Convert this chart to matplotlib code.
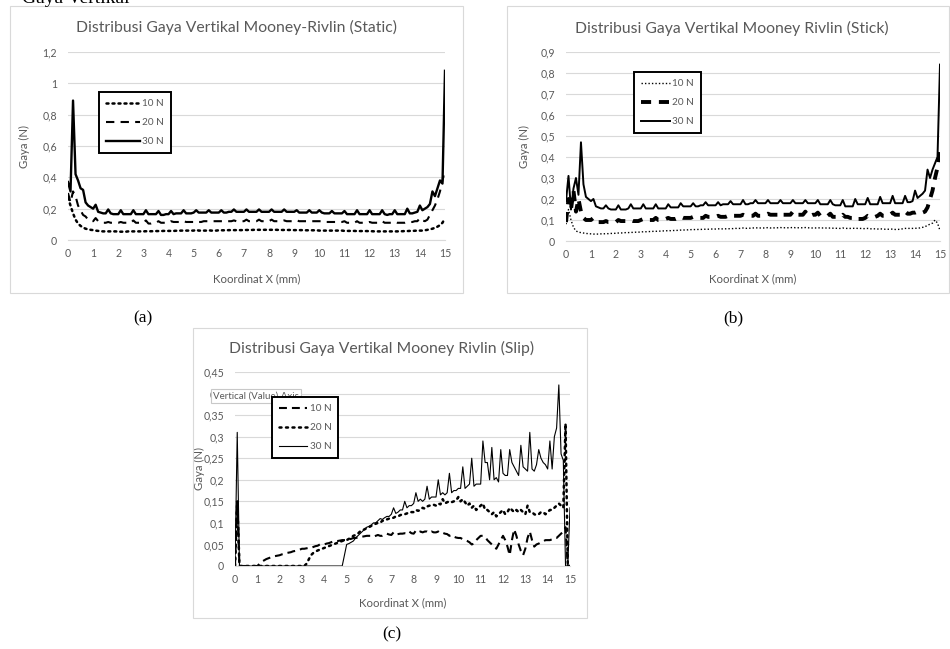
import matplotlib.pyplot as plt
import numpy as np
from matplotlib.patches import Rectangle
from matplotlib.ticker import FuncFormatter

plt.rcParams['font.family'] = ['Lato', 'DejaVu Sans']

# sample positions along the contact (mm), 0.1 mm step
x_mm = np.linspace(0, 15, 151)

# (a) Static
static_30 = [0.37, 0.31, 0.89, 0.42, 0.38, 0.33, 0.32, 0.24, 0.22, 0.21,
             0.2, 0.225, 0.18, 0.175, 0.17, 0.17, 0.195, 0.17, 0.165, 0.165,
             0.165, 0.19, 0.165, 0.165, 0.165, 0.165, 0.19, 0.165, 0.165, 0.165,
             0.165, 0.19, 0.165, 0.165, 0.165, 0.165, 0.185, 0.16, 0.16, 0.165,
             0.165, 0.185, 0.165, 0.17, 0.17, 0.17, 0.19, 0.17, 0.17, 0.17,
             0.175, 0.19, 0.175, 0.175, 0.175, 0.175, 0.19, 0.175, 0.175, 0.175,
             0.175, 0.19, 0.175, 0.175, 0.18, 0.18, 0.195, 0.18, 0.18, 0.18,
             0.18, 0.195, 0.18, 0.18, 0.18, 0.18, 0.195, 0.18, 0.18, 0.18,
             0.18, 0.195, 0.18, 0.18, 0.18, 0.18, 0.195, 0.18, 0.18, 0.18,
             0.18, 0.19, 0.175, 0.175, 0.175, 0.175, 0.19, 0.175, 0.175, 0.175,
             0.19, 0.175, 0.17, 0.17, 0.17, 0.185, 0.17, 0.17, 0.17, 0.17,
             0.185, 0.165, 0.165, 0.165, 0.165, 0.19, 0.165, 0.165, 0.165, 0.165,
             0.19, 0.165, 0.165, 0.165, 0.165, 0.19, 0.165, 0.16, 0.165, 0.165,
             0.19, 0.165, 0.165, 0.165, 0.165, 0.2, 0.17, 0.17, 0.175, 0.18,
             0.22, 0.19, 0.2, 0.21, 0.23, 0.31, 0.28, 0.33, 0.38, 0.36,
             1.08]
static_20 = [0.30, 0.24, 0.31, 0.28, 0.22, 0.19, 0.16, 0.15, 0.13, 0.125,
             0.12, 0.14, 0.12, 0.115, 0.11, 0.11, 0.115, 0.11, 0.11, 0.11,
             0.11, 0.115, 0.11, 0.11, 0.11, 0.11, 0.125, 0.11, 0.11, 0.11,
             0.11, 0.125, 0.105, 0.105, 0.11, 0.11, 0.12, 0.11, 0.11, 0.11,
             0.11, 0.12, 0.115, 0.115, 0.115, 0.115, 0.12, 0.115, 0.115, 0.115,
             0.115, 0.12, 0.115, 0.115, 0.12, 0.12, 0.12, 0.12, 0.12, 0.12,
             0.12, 0.12, 0.12, 0.12, 0.12, 0.12, 0.125, 0.12, 0.12, 0.12,
             0.12, 0.13, 0.12, 0.12, 0.12, 0.12, 0.13, 0.12, 0.12, 0.12,
             0.12, 0.13, 0.12, 0.12, 0.12, 0.12, 0.125, 0.12, 0.12, 0.12,
             0.12, 0.125, 0.12, 0.12, 0.12, 0.12, 0.12, 0.12, 0.12, 0.12,
             0.12, 0.12, 0.115, 0.115, 0.115, 0.115, 0.115, 0.115, 0.115, 0.115,
             0.12, 0.11, 0.11, 0.11, 0.11, 0.12, 0.11, 0.11, 0.11, 0.11,
             0.115, 0.11, 0.11, 0.11, 0.11, 0.12, 0.11, 0.11, 0.11, 0.11,
             0.115, 0.11, 0.11, 0.11, 0.11, 0.115, 0.115, 0.115, 0.12, 0.12,
             0.14, 0.125, 0.12, 0.13, 0.16, 0.19, 0.22, 0.26, 0.31, 0.38,
             0.45]
static_10 = [0.27, 0.22, 0.17, 0.13, 0.105, 0.09, 0.08, 0.072, 0.068, 0.065,
             0.063, 0.06, 0.058, 0.056, 0.055, 0.055, 0.055, 0.055, 0.055, 0.055,
             0.053, 0.053, 0.053, 0.053, 0.055, 0.055, 0.055, 0.055, 0.055, 0.055,
             0.055, 0.056, 0.055, 0.056, 0.056, 0.057, 0.057, 0.057, 0.058, 0.058,
             0.058, 0.058, 0.058, 0.059, 0.059, 0.06, 0.06, 0.06, 0.06, 0.06,
             0.06, 0.065, 0.06, 0.06, 0.06, 0.06, 0.062, 0.06, 0.06, 0.06,
             0.062, 0.062, 0.062, 0.062, 0.063, 0.063, 0.063, 0.063, 0.063, 0.063,
             0.064, 0.064, 0.064, 0.064, 0.065, 0.065, 0.065, 0.065, 0.065, 0.065,
             0.065, 0.065, 0.065, 0.065, 0.064, 0.064, 0.064, 0.064, 0.064, 0.064,
             0.063, 0.063, 0.063, 0.063, 0.062, 0.062, 0.062, 0.062, 0.062, 0.062,
             0.06, 0.06, 0.06, 0.06, 0.06, 0.06, 0.06, 0.06, 0.06, 0.06,
             0.058, 0.058, 0.058, 0.058, 0.058, 0.057, 0.057, 0.057, 0.057, 0.057,
             0.056, 0.056, 0.055, 0.055, 0.055, 0.055, 0.055, 0.055, 0.055, 0.055,
             0.055, 0.055, 0.056, 0.056, 0.057, 0.057, 0.058, 0.058, 0.059, 0.06,
             0.06, 0.06, 0.062, 0.065, 0.068, 0.072, 0.078, 0.085, 0.095, 0.11,
             0.14]

# (b) Stick
stick_30 = [0.19, 0.31, 0.15, 0.25, 0.30, 0.22, 0.47, 0.27, 0.21, 0.2,
            0.19, 0.2, 0.165, 0.16, 0.155, 0.155, 0.17, 0.155, 0.15, 0.15,
            0.15, 0.17, 0.15, 0.15, 0.15, 0.155, 0.175, 0.155, 0.155, 0.155,
            0.155, 0.175, 0.155, 0.155, 0.155, 0.155, 0.175, 0.155, 0.155, 0.155,
            0.155, 0.175, 0.16, 0.16, 0.16, 0.16, 0.18, 0.165, 0.165, 0.165,
            0.165, 0.18, 0.165, 0.165, 0.17, 0.17, 0.185, 0.17, 0.17, 0.17,
            0.17, 0.185, 0.17, 0.175, 0.175, 0.175, 0.19, 0.175, 0.175, 0.175,
            0.175, 0.195, 0.175, 0.175, 0.18, 0.18, 0.195, 0.18, 0.18, 0.18,
            0.18, 0.195, 0.18, 0.18, 0.18, 0.18, 0.195, 0.18, 0.18, 0.18,
            0.18, 0.195, 0.18, 0.18, 0.18, 0.18, 0.195, 0.18, 0.18, 0.18,
            0.18, 0.195, 0.175, 0.175, 0.175, 0.175, 0.195, 0.175, 0.17, 0.17,
            0.17, 0.195, 0.165, 0.165, 0.165, 0.165, 0.2, 0.175, 0.175, 0.175,
            0.175, 0.205, 0.175, 0.175, 0.175, 0.175, 0.21, 0.18, 0.18, 0.18,
            0.18, 0.215, 0.18, 0.18, 0.18, 0.18, 0.215, 0.185, 0.185, 0.19,
            0.24, 0.205, 0.215, 0.225, 0.24, 0.34, 0.30, 0.34, 0.37, 0.40,
            0.84]
stick_20 = [0.09, 0.2, 0.15, 0.24, 0.14, 0.2, 0.14, 0.11, 0.1, 0.1,
            0.1, 0.11, 0.095, 0.09, 0.09, 0.09, 0.095, 0.09, 0.09, 0.09,
            0.09, 0.1, 0.095, 0.095, 0.095, 0.095, 0.1, 0.095, 0.095, 0.095,
            0.1, 0.105, 0.1, 0.1, 0.1, 0.1, 0.11, 0.1, 0.1, 0.1,
            0.105, 0.11, 0.105, 0.105, 0.105, 0.11, 0.115, 0.11, 0.11, 0.11,
            0.11, 0.115, 0.11, 0.11, 0.11, 0.11, 0.12, 0.115, 0.115, 0.115,
            0.115, 0.12, 0.115, 0.115, 0.115, 0.12, 0.125, 0.12, 0.12, 0.12,
            0.12, 0.125, 0.12, 0.12, 0.12, 0.12, 0.13, 0.12, 0.12, 0.125,
            0.125, 0.13, 0.125, 0.125, 0.125, 0.125, 0.135, 0.125, 0.125, 0.125,
            0.125, 0.14, 0.125, 0.125, 0.125, 0.125, 0.14, 0.12, 0.12, 0.125,
            0.125, 0.135, 0.12, 0.12, 0.12, 0.12, 0.13, 0.115, 0.115, 0.115,
            0.115, 0.125, 0.115, 0.115, 0.11, 0.11, 0.115, 0.105, 0.105, 0.105,
            0.11, 0.12, 0.115, 0.115, 0.115, 0.12, 0.13, 0.12, 0.12, 0.125,
            0.125, 0.135, 0.125, 0.125, 0.125, 0.13, 0.14, 0.13, 0.13, 0.135,
            0.135, 0.14, 0.135, 0.135, 0.14, 0.16, 0.2, 0.24, 0.3, 0.35,
            0.44]
stick_10 = [0.08, 0.15, 0.1, 0.065, 0.048, 0.042, 0.04, 0.038, 0.036, 0.035,
            0.034, 0.033, 0.033, 0.033, 0.034, 0.034, 0.035, 0.035, 0.036, 0.036,
            0.037, 0.038, 0.038, 0.039, 0.04, 0.04, 0.041, 0.041, 0.042, 0.042,
            0.043, 0.044, 0.044, 0.045, 0.045, 0.046, 0.046, 0.047, 0.047, 0.048,
            0.048, 0.05, 0.049, 0.05, 0.05, 0.051, 0.052, 0.052, 0.053, 0.053,
            0.054, 0.055, 0.054, 0.055, 0.055, 0.056, 0.056, 0.056, 0.057, 0.057,
            0.057, 0.058, 0.057, 0.058, 0.058, 0.058, 0.059, 0.059, 0.06, 0.06,
            0.06, 0.062, 0.06, 0.061, 0.061, 0.062, 0.063, 0.062, 0.062, 0.062,
            0.062, 0.064, 0.062, 0.062, 0.063, 0.063, 0.064, 0.063, 0.063, 0.063,
            0.063, 0.065, 0.063, 0.063, 0.063, 0.063, 0.064, 0.063, 0.062, 0.062,
            0.062, 0.063, 0.062, 0.062, 0.062, 0.061, 0.062, 0.061, 0.061, 0.06,
            0.06, 0.062, 0.06, 0.06, 0.06, 0.06, 0.061, 0.06, 0.06, 0.059,
            0.059, 0.06, 0.058, 0.058, 0.058, 0.057, 0.058, 0.057, 0.056, 0.056,
            0.056, 0.057, 0.055, 0.055, 0.056, 0.058, 0.06, 0.06, 0.06, 0.06,
            0.06, 0.062, 0.062, 0.065, 0.068, 0.075, 0.08, 0.085, 0.1, 0.085,
            0.05]

# (c) Slip
slip_30 = [0.0, 0.31, 0.0, 0.0, 0.0, 0.0, 0.0, 0.0, 0.0, 0.0,
           0.0, 0.0, 0.0, 0.0, 0.0, 0.0, 0.0, 0.0, 0.0, 0.0,
           0.0, 0.0, 0.0, 0.0, 0.0, 0.0, 0.0, 0.0, 0.0, 0.0,
           0.0, 0.0, 0.0, 0.0, 0.0, 0.0, 0.0, 0.0, 0.0, 0.0,
           0.0, 0.0, 0.0, 0.0, 0.0, 0.0, 0.0, 0.0, 0.0, 0.025,
           0.05, 0.052, 0.055, 0.058, 0.065, 0.07, 0.075, 0.08, 0.085, 0.09,
           0.092, 0.095, 0.1, 0.1, 0.105, 0.11, 0.108, 0.112, 0.115, 0.115,
           0.12, 0.135, 0.122, 0.125, 0.13, 0.13, 0.15, 0.135, 0.14, 0.14,
           0.145, 0.17, 0.15, 0.155, 0.15, 0.155, 0.185, 0.155, 0.16, 0.16,
           0.16, 0.2, 0.165, 0.17, 0.165, 0.17, 0.215, 0.17, 0.175, 0.175,
           0.18, 0.18, 0.23, 0.18, 0.185, 0.19, 0.25, 0.185, 0.19, 0.19,
           0.19, 0.29, 0.24, 0.24, 0.2, 0.275, 0.2, 0.205, 0.195, 0.27,
           0.215, 0.21, 0.21, 0.27, 0.24, 0.23, 0.22, 0.21, 0.28, 0.23,
           0.225, 0.22, 0.31, 0.225, 0.22, 0.235, 0.27, 0.25, 0.24, 0.235,
           0.225, 0.29, 0.225, 0.3, 0.32, 0.42, 0.26, 0.245, 0.0, 0.0,
           0.135]
slip_20 = [0.0, 0.15, 0.0, 0.0, 0.0, 0.0, 0.0, 0.0, 0.0, 0.0,
           0.0, 0.0, 0.0, 0.0, 0.0, 0.0, 0.0, 0.0, 0.0, 0.0,
           0.0, 0.0, 0.0, 0.0, 0.0, 0.0, 0.0, 0.0, 0.0, 0.0,
           0.0, 0.0, 0.005, 0.015, 0.025, 0.03, 0.033, 0.036, 0.038, 0.04,
           0.042, 0.044, 0.046, 0.048, 0.05, 0.052, 0.054, 0.056, 0.058, 0.06,
           0.06, 0.063, 0.066, 0.07, 0.072, 0.075, 0.08, 0.083, 0.085, 0.088,
           0.09, 0.093, 0.095, 0.098, 0.1, 0.1, 0.105, 0.105, 0.108, 0.11,
           0.11, 0.112, 0.115, 0.115, 0.118, 0.12, 0.12, 0.122, 0.125, 0.125,
           0.125, 0.13, 0.128, 0.13, 0.135, 0.133, 0.138, 0.14, 0.14, 0.142,
           0.14, 0.145, 0.143, 0.155, 0.145, 0.148, 0.15, 0.148, 0.15, 0.152,
           0.16, 0.15, 0.155, 0.148, 0.14, 0.145, 0.135, 0.14, 0.13, 0.135,
           0.14, 0.145, 0.13, 0.13, 0.125, 0.12, 0.125, 0.115, 0.12, 0.125,
           0.13, 0.12, 0.125, 0.135, 0.13, 0.125, 0.13, 0.125, 0.13, 0.125,
           0.12, 0.14, 0.125, 0.125, 0.12, 0.118, 0.12, 0.125, 0.125, 0.12,
           0.125, 0.13, 0.13, 0.135, 0.14, 0.145, 0.14, 0.135, 0.33, 0.0,
           0.0]
slip_10 = [0.0, 0.15, 0.0, 0.0, 0.0, 0.0, 0.0, 0.0, 0.0, 0.0,
           0.0, 0.005, 0.01, 0.013, 0.016, 0.018, 0.02, 0.022, 0.023, 0.024,
           0.025, 0.027, 0.028, 0.03, 0.031, 0.032, 0.034, 0.035, 0.037, 0.038,
           0.04, 0.04, 0.041, 0.042, 0.042, 0.044, 0.046, 0.047, 0.05, 0.05,
           0.05, 0.052, 0.053, 0.055, 0.057, 0.058, 0.058, 0.059, 0.06, 0.06,
           0.06, 0.062, 0.063, 0.065, 0.065, 0.066, 0.068, 0.068, 0.069, 0.07,
           0.07, 0.07, 0.068, 0.07, 0.072, 0.07, 0.07, 0.072, 0.075, 0.073,
           0.072, 0.078, 0.073, 0.074, 0.075, 0.075, 0.076, 0.075, 0.08, 0.076,
           0.075, 0.082, 0.078, 0.08, 0.078, 0.08, 0.08, 0.077, 0.08, 0.078,
           0.078, 0.08, 0.076, 0.077, 0.075, 0.074, 0.07, 0.072, 0.068, 0.066,
           0.065, 0.065, 0.062, 0.06, 0.058, 0.055, 0.05, 0.052, 0.06, 0.065,
           0.07, 0.07, 0.068, 0.06, 0.055, 0.05, 0.045, 0.04, 0.05, 0.06,
           0.07, 0.06, 0.045, 0.025, 0.06, 0.085, 0.07, 0.05, 0.035, 0.025,
           0.04, 0.065, 0.08, 0.06, 0.045, 0.05, 0.052, 0.055, 0.057, 0.06,
           0.06, 0.06, 0.062, 0.065, 0.065, 0.07, 0.075, 0.08, 0.09, 0.0,
           0.0]

labels = ['10 N', '20 N', '30 N']

W, H = 950, 649
fig = plt.figure(figsize=(W / 100, H / 100), dpi=100)
grey = '#595959'


def frame(x0, y0, x1, y1):
    # chart area border, pixel coords from the top-left
    fig.patches.append(Rectangle((x0 / W, 1 - y1 / H), (x1 - x0) / W, (y1 - y0) / H,
                                 transform=fig.transFigure, fill=False,
                                 ec='#d9d9d9', lw=0.8))


def excel_axes(x0, y0, x1, y1, ymax, ystep, title, title_xy):
    ax = fig.add_axes([x0 / W, 1 - y1 / H, (x1 - x0) / W, (y1 - y0) / H])
    ax.set_xlim(0, 15)
    ax.set_ylim(0, ymax)
    ax.set_xticks(range(16))
    ax.set_yticks(np.arange(0, ymax + ystep / 2, ystep))
    ax.yaxis.set_major_formatter(FuncFormatter(
        lambda v, p: f'{v:.2f}'.rstrip('0').rstrip('.').replace('.', ',')))
    ax.grid(axis='y', color='#d9d9d9', lw=0.8)
    ax.set_axisbelow(True)
    for s in ['top', 'right', 'left']:
        ax.spines[s].set_visible(False)
    ax.spines['bottom'].set_color('#d9d9d9')
    ax.tick_params(length=0, labelsize=7.6, labelcolor=grey)
    ax.tick_params(axis='x', pad=6)
    ax.tick_params(axis='y', pad=8)
    ax.set_xlabel('Koordinat X (mm)', fontsize=8.2, color=grey)
    ax.set_ylabel('Gaya (N)', fontsize=8.2, color=grey)
    fig.text(title_xy[0] / W, 1 - title_xy[1] / H, title, fontsize=11.3,
             color=grey, ha='center', va='center')
    return ax


def excel_legend(ax, xy, hl):
    leg = ax.legend(loc='upper left', bbox_to_anchor=(xy[0] / W, 1 - xy[1] / H),
                    bbox_transform=fig.transFigure, borderaxespad=0,
                    fancybox=False, edgecolor='black', framealpha=1,
                    fontsize=7.2, labelcolor=grey, handlelength=hl,
                    handletextpad=0.25, borderpad=0.7, labelspacing=1.0)
    leg.get_frame().set_linewidth(1.4)
    return leg


# cut-off caption at the very top
fig.text(22 / W, 1 - 3 / H, 'Gaya Vertikal', family='Liberation Serif',
         fontsize=14, va='baseline', ha='left')

# ---- (a) static
frame(10, 6, 463, 293)
ax_a = excel_axes(68, 52, 445, 240, 1.2, 0.2,
                  'Distribusi Gaya Vertikal Mooney-Rivlin (Static)', (236, 27))
ax_a.plot(x_mm, static_10, color='black', lw=1.8, ls=(0, (0.8, 1.6)),
          dash_capstyle='round', label=labels[0])
ax_a.plot(x_mm, static_20, color='black', lw=1.5, ls=(0, (4, 3)), label=labels[1])
ax_a.plot(x_mm, static_30, color='black', lw=1.7, solid_joinstyle='round', label=labels[2])
ax_a.xaxis.set_label_coords(0.5, -0.175)
ax_a.yaxis.set_label_coords(-0.10, 0.5)
excel_legend(ax_a, (99, 92), 3.4)

# ---- (b) stick
frame(507, 6, 949, 293)
ax_b = excel_axes(566, 52, 940, 241, 0.9, 0.1,
                  'Distribusi Gaya Vertikal Mooney Rivlin (Stick)', (732, 28))
ax_b.plot(x_mm, stick_10, color='black', lw=1.0, ls=(0, (1, 1.5)), label=labels[0])
ax_b.plot(x_mm, stick_20, color='black', lw=2.8, ls=(0, (2.6, 2)), label=labels[1])
ax_b.plot(x_mm, stick_30, color='black', lw=1.4, solid_joinstyle='round', label=labels[2])
ax_b.xaxis.set_label_coords(0.5, -0.169)
ax_b.yaxis.set_label_coords(-0.096, 0.5)
excel_legend(ax_b, (634, 72), 2.9)

# ---- (c) slip
frame(193, 328, 587, 618)
ax_c = excel_axes(235, 372, 570, 566, 0.45, 0.05,
                  'Distribusi Gaya Vertikal Mooney Rivlin (Slip)', (382, 348))
ax_c.plot(x_mm, slip_10, color='black', lw=1.5, ls=(0, (3.8, 2.4)), label=labels[0])
ax_c.plot(x_mm, slip_20, color='black', lw=1.8, ls=(0, (0.8, 1.8)),
          dash_capstyle='round', label=labels[1])
ax_c.plot(x_mm, slip_30, color='black', lw=0.8, label=labels[2])
ax_c.xaxis.set_label_coords(0.5, -0.16)
ax_c.yaxis.set_label_coords(-0.09, 0.5)
excel_legend(ax_c, (272, 397), 2.8)
ax_c.text(213 / W, 1 - 396 / H, 'Vertical (Value) Axis', transform=fig.transFigure,
          fontsize=7, color=grey, ha='left', va='center', zorder=4, clip_on=False,
          bbox=dict(boxstyle='square,pad=0.25', fc='white', ec='#c8c8c8', lw=0.8))

# sub-figure captions
for lab, (cx, cy) in zip(['(a)', '(b)', '(c)'], [(143, 318), (733, 318), (392, 634)]):
    fig.text(cx / W, 1 - cy / H, lab, family='Liberation Serif', fontsize=12.5,
             ha='center', va='center')

fig.savefig('out.png', dpi=100)
